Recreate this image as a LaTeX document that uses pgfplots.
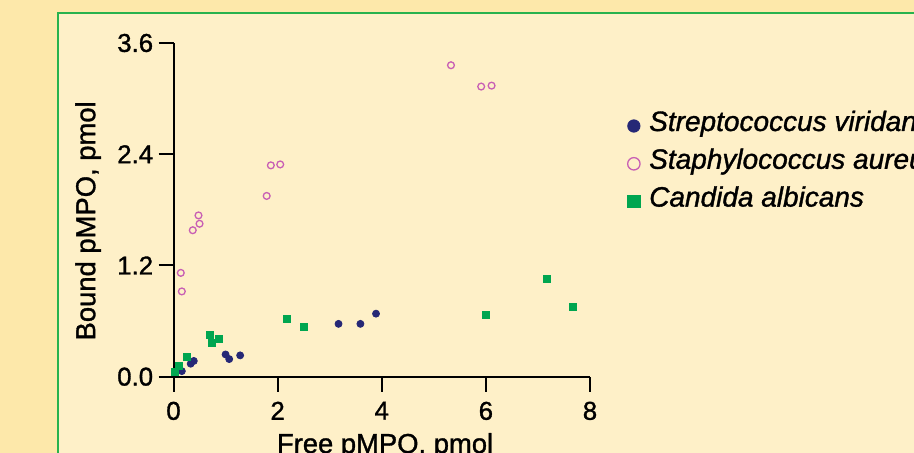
\documentclass[border=0pt]{standalone}
\usepackage{fontspec}
\setmainfont{Liberation Sans}[RawFeature={embolden=1.2}]
\usepackage{pgfplots}
\pgfplotsset{compat=1.18}
\pgfplotsset{myimg/.style={legend image code/.code={\draw[##1, mark size=3.1pt] plot coordinates {(0pt,0pt)};}}}
\definecolor{outerbg}{RGB}{253,232,170}
\definecolor{innerbg}{RGB}{254,240,200}
\definecolor{boxgreen}{RGB}{40,178,78}
\definecolor{navy}{RGB}{38,40,118}
\definecolor{pinkc}{RGB}{200,95,180}
\definecolor{greensq}{RGB}{0,166,80}
\begin{document}
\begin{tikzpicture}[x=0.5pt,y=0.5pt]
\useasboundingbox (0,0) rectangle (914,453);
\clip (0,0) rectangle (914,453);
\fill[outerbg] (0,0) rectangle (914,453);
\filldraw[fill=innerbg, draw=boxgreen, line width=1.15pt] (57.8,-20) rectangle (960,440);
\begin{axis}[
  at={(86.75pt,38.15pt)}, anchor=south west,
  scale only axis, width=208.25pt, height=166.85pt,
  xmin=0, xmax=8, ymin=0, ymax=3.6,
  clip=false,
  axis lines=left,
  axis line style={-, line width=1pt, black},
  xtick={0,2,4,6,8}, ytick={0,1.2,2.4,3.6},
  tick align=outside, major tick length=7.5pt,
  every tick/.style={black, line width=1pt},
  /pgf/number format/assume math mode=true,
  tick label style={font=\fontsize{12.9}{14}\selectfont},
  yticklabel style={inner sep=2.5pt, /pgf/number format/fixed, /pgf/number format/fixed zerofill, /pgf/number format/precision=1},
  xticklabel style={yshift=-1.5pt},
  label style={font=\fontsize{13.7}{15}\selectfont},
  xlabel={Free pMPO, pmol},
  ylabel={Bound pMPO, pmol},
  xlabel style={at={(axis description cs:0.508,-0.2287)}, anchor=base},
  ylabel style={at={(axis description cs:-0.205,0.467)}, anchor=center},
  legend style={at={(rel axis cs:1.0895,0.638)}, anchor=west, draw=none, fill=none,
    font=\fontsize{14.0}{16}\selectfont\itshape, row sep=9.5pt, column sep=4.6pt, inner sep=0pt,
    nodes={inner sep=0pt, text height=0.72em, text depth=0.22em}},
  legend cell align=left,
]
\addplot[only marks, mark=*, mark size=1.75pt, color=navy, myimg]
  table {
x y
0.16 0.06
0.33 0.14
0.39 0.17
1.00 0.24
1.07 0.19
1.28 0.23
3.17 0.57
3.59 0.57
3.89 0.68
};
\addlegendentry{Streptococcus viridans}
\addplot[only marks, mark=o, mark size=1.7pt, color=pinkc, mark options={line width=0.65pt}, myimg]
  table {
x y
0.14 1.12
0.16 0.92
0.37 1.58
0.48 1.74
0.50 1.65
1.79 1.95
1.87 2.28
2.05 2.29
5.33 3.36
5.91 3.13
6.11 3.14
};
\addlegendentry{Staphylococcus aureus}
\addplot[only marks, mark=square*, mark size=1.75pt, color=greensq, myimg]
  table {
x y
0.03 0.05
0.11 0.12
0.26 0.21
0.69 0.45
0.73 0.36
0.88 0.41
2.17 0.62
2.51 0.54
6.00 0.67
7.17 1.06
7.67 0.75
};
\addlegendentry{Candida albicans}
\end{axis}
\end{tikzpicture}
\end{document}
